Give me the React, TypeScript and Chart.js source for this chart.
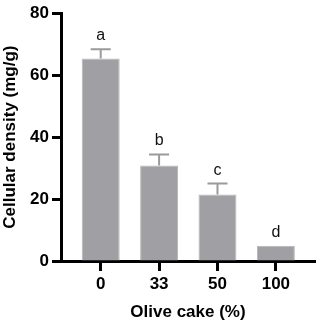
import React, { useEffect, useRef } from "react";
import { Chart, registerables } from "chart.js";

Chart.register(...registerables);

const categories = ["0", "33", "50", "100"];
const values = [65.4, 30.8, 21.5, 4.9];
const errors = [3.0, 3.6, 3.5, 0];
const letters = ["a", "b", "c", "d"];
const yTicks = [0, 20, 40, 60, 80];

const FONT = "'Liberation Sans', Arial, sans-serif";

const errorPlugin = {
  id: "errorLetters",
  afterDatasetsDraw(chart: any) {
    const ctx = chart.ctx;
    const meta = chart.getDatasetMeta(0);
    const y = chart.scales.y;
    ctx.save();
    meta.data.forEach((bar: any, i: number) => {
      const top = y.getPixelForValue(values[i] + errors[i]);
      const base = y.getPixelForValue(values[i]);
      if (errors[i] > 0) {
        ctx.strokeStyle = "#9a9a9c";
        ctx.lineWidth = 2;
        ctx.beginPath();
        ctx.moveTo(bar.x, base);
        ctx.lineTo(bar.x, top);
        ctx.moveTo(bar.x - 10, top);
        ctx.lineTo(bar.x + 10, top);
        ctx.stroke();
      }
      ctx.fillStyle = "#111";
      ctx.font = `16px ${FONT}`;
      ctx.textAlign = "center";
      ctx.textBaseline = "alphabetic";
      ctx.fillText(letters[i], bar.x, top - 9);
    });
    ctx.restore();
  },
};

export default function App() {
  const ref = useRef<HTMLCanvasElement>(null);
  useEffect(() => {
    document.body.style.margin = "0";
    const chart = new Chart(ref.current!, {
      type: "bar",
      data: {
        datasets: [
          {
            data: values.map((v, i) => ({ x: i, y: v })),
            backgroundColor: "#a0a0a4",
            borderColor: "#b6b6b8",
            borderWidth: 1,
            barPercentage: 0.65,
            categoryPercentage: 1,
          },
        ],
      },
      options: {
        animation: false,
        responsive: false,
        layout: { padding: { top: 9, right: 4, left: 0, bottom: 0 } },
        plugins: { legend: { display: false }, tooltip: { enabled: false } },
        scales: {
          x: {
            type: "linear",
            offset: false,
            min: -0.68,
            max: 3.67,
            afterBuildTicks: (scale: any) => {
              scale.ticks = categories.map((_, i) => ({ value: i }));
            },
            afterFit: (scale: any) => {
              scale.height = 65;
            },
            ticks: {
              callback: (v: any) => categories[v as number] ?? "",
              color: "#000",
              font: { family: FONT, size: 17, weight: "bold" },
              padding: 3,
              maxRotation: 0,
              autoSkip: false,
            },
            grid: {
              offset: false,
              drawOnChartArea: false,
              drawTicks: true,
              tickLength: 10,
              tickWidth: 3,
              tickColor: "#000",
            },
            border: { display: true, color: "#000", width: 3 },
            title: {
              display: true,
              text: "Olive cake (%)",
              color: "#000",
              font: { family: FONT, size: 17, weight: "bold" },
              padding: { top: 0, bottom: 3 },
            },
          },
          y: {
            min: 0,
            max: 80,
            afterBuildTicks: (scale: any) => {
              scale.ticks = yTicks.map((v) => ({ value: v }));
            },
            afterFit: (scale: any) => {
              scale.width = 61;
            },
            ticks: {
              color: "#000",
              font: { family: FONT, size: 17, weight: "bold" },
              padding: 3,
            },
            grid: {
              drawOnChartArea: false,
              drawTicks: true,
              tickLength: 9,
              tickWidth: 3,
              tickColor: "#000",
            },
            border: { display: true, color: "#000", width: 3 },
            title: {
              display: true,
              text: "Cellular density (mg/g)",
              color: "#000",
              font: { family: FONT, size: 17, weight: "bold" },
              padding: 0,
            },
          },
        },
      },
      plugins: [errorPlugin],
    } as any);
    return () => chart.destroy();
  }, []);
  return (
    <div style={{ width: 319, height: 326 }}>
      <canvas ref={ref} width={319} height={326} />
    </div>
  );
}
